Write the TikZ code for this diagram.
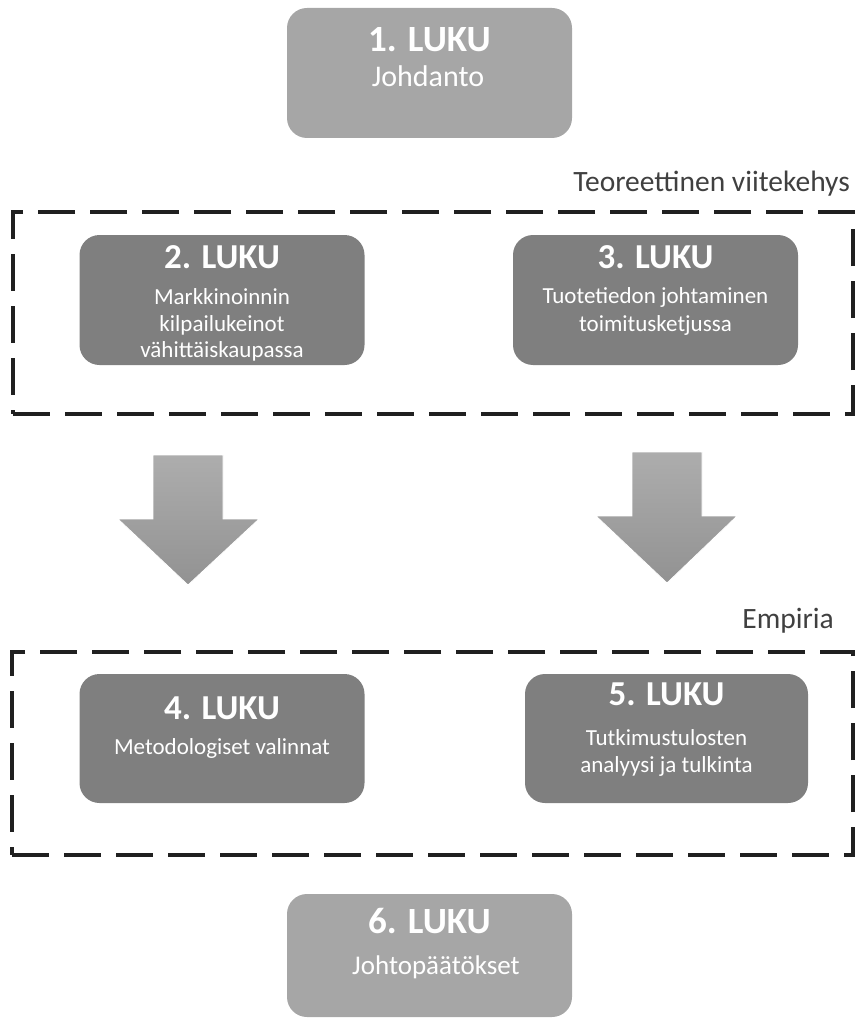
\documentclass[tikz,border=0pt]{standalone}
\usepackage{fontspec}
\setmainfont{Carlito}
\definecolor{lightbox}{HTML}{A6A6A6}
\definecolor{darkbox}{HTML}{7F7F7F}
\definecolor{labelgray}{HTML}{404040}
\definecolor{dashcol}{HTML}{202020}
\definecolor{arrtop}{HTML}{ADADAD}
\definecolor{arrbot}{HTML}{929292}
\begin{document}
\begin{tikzpicture}[x=1pt,y=-1pt,
 box/.style={rectangle, rounded corners=20pt, inner sep=0pt, minimum width=285pt, minimum height=130pt},
 light/.style={box, fill=lightbox},
 dark/.style={box, fill=darkbox},
 ttl/.style={anchor=base, text=white, font=\fontsize{35}{40}\selectfont\bfseries, inner sep=0pt},
 bigttl/.style={ttl, font=\fontsize{37}{42}\selectfont\bfseries},
 sub/.style={anchor=base, text=white, font=\fontsize{23}{27}\selectfont, inner sep=0pt},
 bigsub/.style={anchor=base, text=white, font=\fontsize{28}{32}\selectfont, inner sep=0pt},
 frame/.style={draw=dashcol, line width=4.5pt, dash pattern=on 37pt off 15pt, inner sep=0pt},
 grp/.style={anchor=base east, text=labelgray, font=\fontsize{29.5}{34}\selectfont, inner sep=0pt},
 downarrow/.style={top color=arrtop, bottom color=arrbot, draw=white, line width=0.8pt}
]
\useasboundingbox (0,0) rectangle (855,1019);

% group frames
\node[frame, minimum width=840pt, minimum height=202pt] (f1) at (433,313) {};
\node[frame, minimum width=841pt, minimum height=203pt] (f2) at (432.5,753.5) {};
\node[grp] (l1) at (850,192) {Teoreettinen viitekehys};
\node[grp] (l2) at (834,628) {Empiria};

% boxes
\node[light] (b1) at (429.5,73) {};
\node[dark]  (b2) at (222,300) {};
\node[dark, minimum width=285pt] (b3) at (655.5,300) {};
\node[dark, minimum height=129pt] (b4) at (222,738.5) {};
\node[dark, minimum width=283pt, minimum height=129pt] (b5) at (666.5,738.5) {};
\node[light, minimum height=123pt] (b6) at (429.5,955.5) {};

% texts
\node[bigttl] (t1) at (429.5,52) {1. LUKU};
\node[bigsub, font=\fontsize{30}{34}\selectfont] (s1) at (428,87) {Johdanto};

\node[ttl] (t2) at (222,268) {2. LUKU};
\node[sub] (s2a) at (222,304) {Markkinoinnin};
\node[sub] (s2b) at (222,331) {kilpailukeinot};
\node[sub] (s2c) at (222,357) {vähittäiskaupassa};

\node[ttl] (t3) at (655.5,268) {3. LUKU};
\node[sub] (s3a) at (655.5,303) {Tuotetiedon johtaminen};
\node[sub] (s3b) at (655.5,331) {toimitusketjussa};

\node[ttl] (t4) at (222,719) {4. LUKU};
\node[sub] (s4a) at (222,754) {Metodologiset valinnat};

\node[ttl] (t5) at (666.5,705) {5. LUKU};
\node[sub] (s5a) at (666.5,745) {Tutkimustulosten};
\node[sub] (s5b) at (666.5,772) {analyysi ja tulkinta};

\node[bigttl] (t6) at (429.5,933) {6. LUKU};
\node[bigsub, font=\fontsize{27}{32}\selectfont] (s6) at (436,974) {Johtopäätökset};

% block arrows
\path[downarrow] (153,455) -- (223,455) -- (223,519) -- (259,519) -- (188,585) -- (118,519) -- (153,519) -- cycle;
\path[downarrow] (632,452) -- (702,452) -- (702,516) -- (737,516) -- (667,583) -- (596,516) -- (632,516) -- cycle;
\end{tikzpicture}
\end{document}
